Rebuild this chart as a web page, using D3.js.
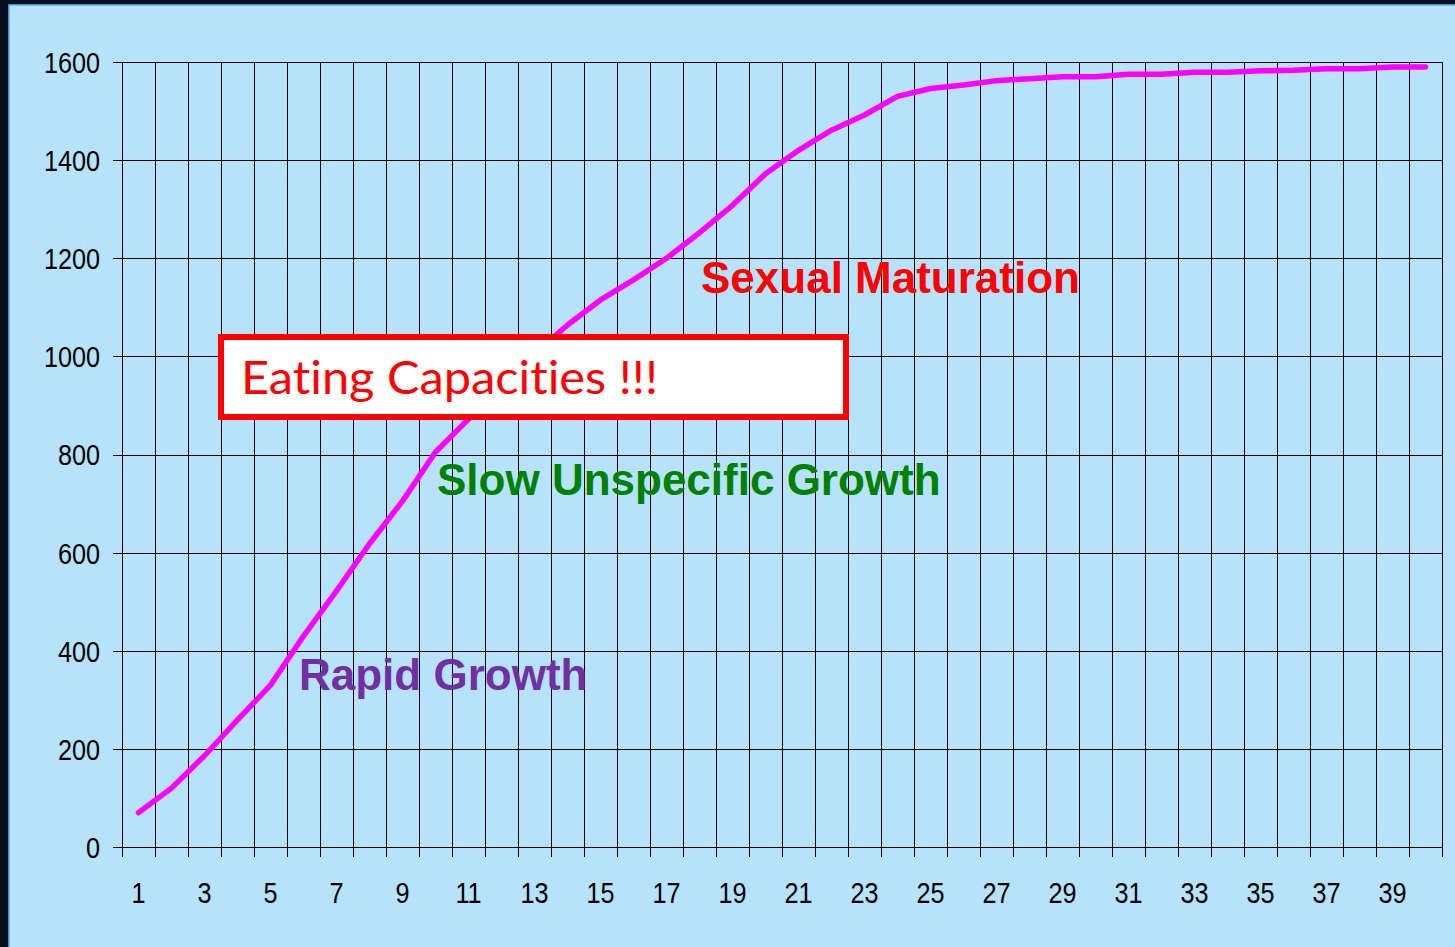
<!DOCTYPE html>
<html>
<head>
<meta charset="utf-8">
<script src="https://cdn.jsdelivr.net/npm/d3@7"></script>
<style>
  html, body { margin: 0; padding: 0; background: #06101e; }
  svg { display: block; }
</style>
</head>
<body>
<svg id="chart" width="1455" height="947"></svg>
<script>
// ---- data ----
const categories = ["1","2","3","4","5","6","7","8","9","10","11","12","13","14","15","16","17","18","19","20",
                    "21","22","23","24","25","26","27","28","29","30","31","32","33","34","35","36","37","38","39","40"];
const weights = [70, 120, 186, 259, 330, 430, 522, 618, 705, 805,
                 872, 940, 1005, 1064, 1115, 1156, 1200, 1252, 1308, 1372,
                 1420, 1461, 1492, 1530, 1546, 1553, 1562, 1566, 1570, 1570,
                 1575, 1575, 1579, 1579, 1582, 1583, 1586, 1586, 1590, 1590];
const xTickLabels = ["1","3","5","7","9","11","13","15","17","19","21","23","25","27","29","31","33","35","37","39"];
const yTickValues = [0, 200, 400, 600, 800, 1000, 1200, 1400, 1600];
const phaseLabels = ["Sexual Maturation", "Slow Unspecific Growth", "Rapid Growth"];
const boxLabel = "Eating Capacities !!!";

// ---- layout ----
const svg = d3.select("#chart");
const plotLeft = 122, plotRight = 1442, plotTop = 62, plotBottom = 847;
const sx = 0.87; // horizontal compression of tick labels

// background
svg.append("rect").attr("x", 0).attr("y", 0).attr("width", 1455).attr("height", 947).attr("fill", "#06101e");
svg.append("rect").attr("x", 8).attr("y", 4).attr("width", 1460).attr("height", 960)
   .attr("fill", "#3f8fd6");
svg.append("rect").attr("x", 9.5).attr("y", 5.5).attr("width", 1460).attr("height", 960)
   .attr("fill", "#b6e3fb");

const x = d3.scaleBand().domain(categories).range([plotLeft, plotRight]).paddingInner(0).paddingOuter(0);
const y = d3.scaleLinear().domain([0, 1600]).range([plotBottom, plotTop]);

const grid = svg.append("g").attr("stroke", "#000").attr("stroke-width", 1).attr("shape-rendering", "crispEdges");

// horizontal gridlines (include tick extension on the left)
grid.selectAll("line.h").data(yTickValues).join("line")
  .attr("class", "h")
  .attr("x1", plotLeft - 9).attr("x2", plotRight)
  .attr("y1", d => Math.round(y(d)) + 0.5).attr("y2", d => Math.round(y(d)) + 0.5);

// vertical gridlines at category boundaries (extend below axis as ticks)
const boundaries = categories.map(c => x(c)).concat([x.range()[1]]);
grid.selectAll("line.v").data(boundaries).join("line")
  .attr("class", "v")
  .attr("x1", d => Math.round(d) + 0.5).attr("x2", d => Math.round(d) + 0.5)
  .attr("y1", plotTop).attr("y2", plotBottom + 10);

// Y axis labels
const yAxis = d3.axisLeft(y).tickValues(yTickValues).tickSize(0).tickFormat(d3.format("d"));
const gy = svg.append("g").attr("transform", `translate(${plotLeft},0)`).call(yAxis);
gy.select(".domain").remove();
gy.selectAll("text")
  .attr("x", -22 / sx)
  .attr("dy", "0.36em")
  .attr("transform", `scale(${sx},1)`)
  .attr("fill", "#000")
  .style("font-family", "'Liberation Sans', Arial, sans-serif")
  .style("font-size", "29px");

// X axis labels
const xAxis = d3.axisBottom(x).tickSize(0).tickFormat(d => xTickLabels.includes(d) ? d : "");
const gx = svg.append("g").attr("transform", `translate(0,${plotBottom})`).call(xAxis);
gx.select(".domain").remove();
gx.selectAll(".tick").each(function() {
  const t = d3.select(this);
  const tr = t.attr("transform");
  const cx = +tr.match(/translate\(([-\d.]+)/)[1];
  t.attr("transform", null);
  t.select("text")
    .attr("x", cx / sx)
    .attr("y", 56)
    .attr("dy", 0)
    .attr("transform", `scale(${sx},1)`)
    .attr("fill", "#000")
    .style("font-family", "'Liberation Sans', Arial, sans-serif")
    .style("font-size", "29px");
});

// growth curve
const series = categories.map((c, i) => ({ cat: c, v: weights[i] }));
const line = d3.line().x(d => x(d.cat) + x.bandwidth() / 2).y(d => y(d.v));
svg.append("path").datum(series)
  .attr("d", line)
  .attr("fill", "none")
  .attr("stroke", "#ff00ff")
  .attr("stroke-width", 5.5)
  .attr("stroke-linejoin", "round")
  .attr("stroke-linecap", "round");

// phase labels
const labelFont = "'Liberation Sans', Arial, sans-serif";
const phaseStyles = [
  { x: 701, y: 293, color: "#ff0000" },
  { x: 437, y: 495, color: "#008000" },
  { x: 299, y: 690, color: "#7030a0" }
];
svg.selectAll("text.phase").data(phaseLabels).join("text")
  .attr("class", "phase")
  .attr("x", (d, i) => phaseStyles[i].x)
  .attr("y", (d, i) => phaseStyles[i].y)
  .attr("fill", (d, i) => phaseStyles[i].color)
  .style("font-family", labelFont)
  .style("font-weight", "bold")
  .style("font-size", "44px")
  .text(d => d);

// Eating capacities box
svg.append("rect")
  .attr("x", 221).attr("y", 337).attr("width", 625).attr("height", 80)
  .attr("fill", "#ffffff").attr("stroke", "#ff0000").attr("stroke-width", 6);
svg.append("text")
  .attr("x", 241).attr("y", 394)
  .attr("fill", "#ff0000")
  .attr("textLength", 417)
  .attr("lengthAdjust", "spacingAndGlyphs")
  .style("font-family", "Lato, 'Open Sans', sans-serif")
  .style("font-variant-ligatures", "none")
  .style("font-feature-settings", "'liga' 0")
  .style("font-size", "46px")
  .text(boxLabel);
</script>
</body>
</html>
